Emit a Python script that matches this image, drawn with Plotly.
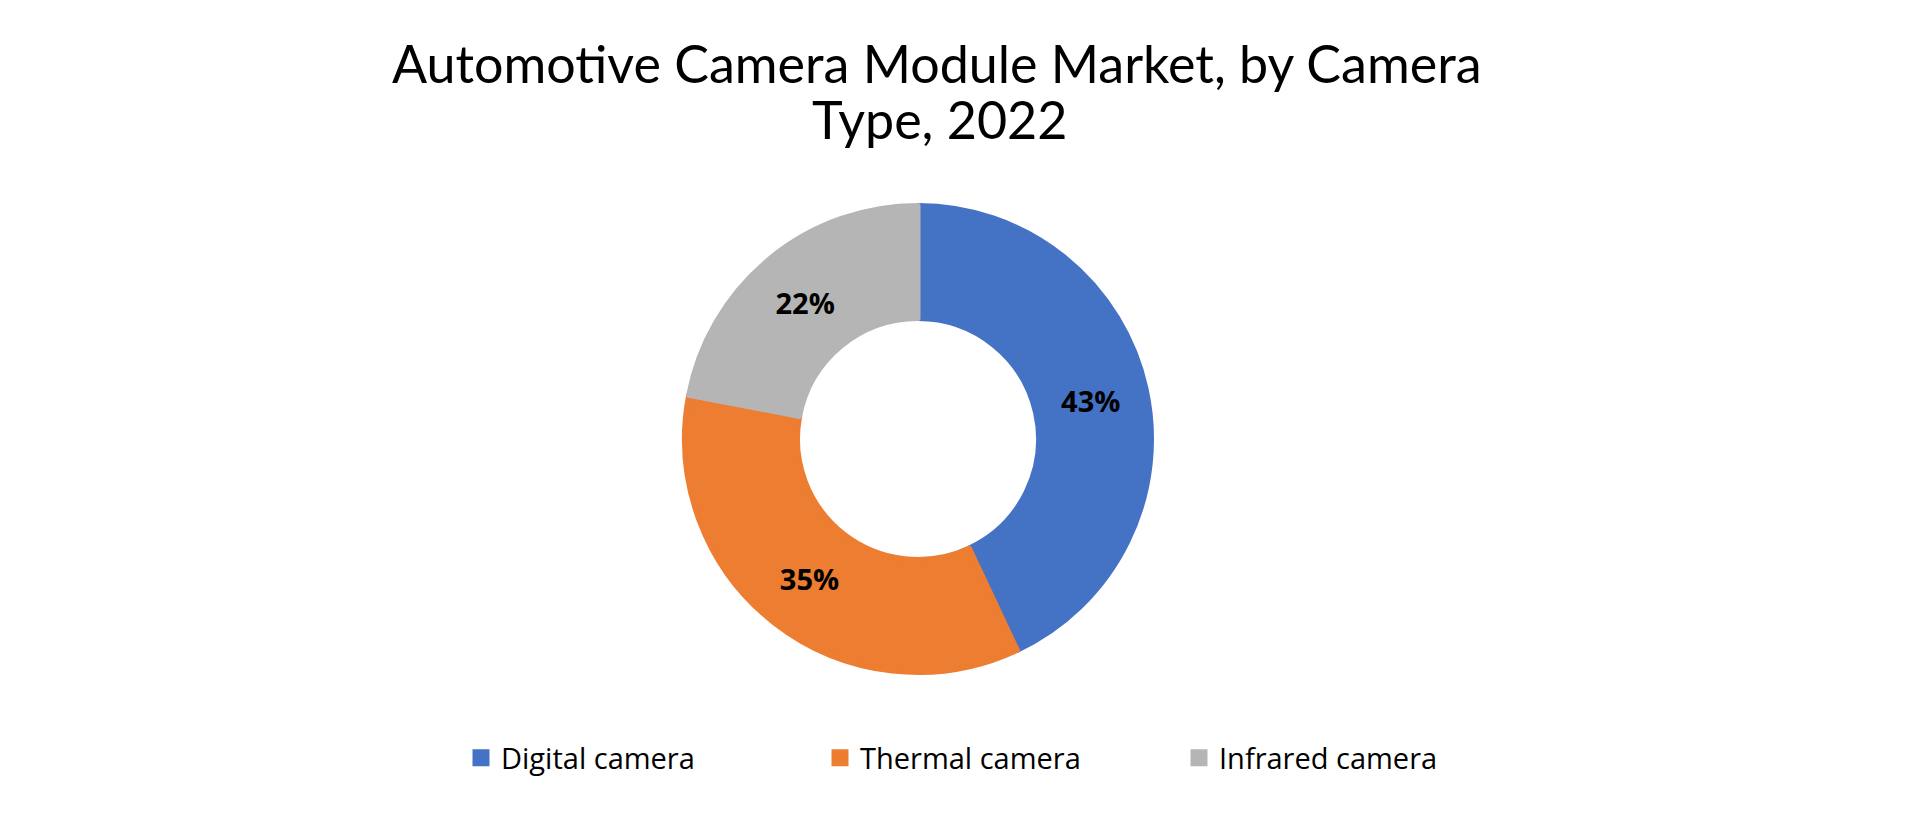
import plotly.graph_objects as go

categories = ["Digital camera", "Thermal camera", "Infrared camera"]
shares = [43, 35, 22]
colors = ["#4472C4", "#ED7D31", "#B5B5B5"]
title_line1 = "Automotive Camera Module Market, by Camera"
title_line2 = "Type, 2022"

W, H = 1920, 818
cx, cy, r_out, r_in = 918, 439, 236, 118
border = 5
r_draw = r_out - border / 2

fig = go.Figure(
    go.Pie(
        labels=categories,
        values=shares,
        sort=False,
        direction="clockwise",
        rotation=0,
        hole=(r_in + border / 2) / r_draw,
        marker=dict(colors=colors, line=dict(color=colors, width=border)),
        texttemplate="%{percent:.0%}",
        textposition="inside",
        insidetextorientation="horizontal",
        textfont=dict(family="Open Sans", size=29, color="#000000", weight="bold"),
        hoverinfo="label+percent",
        domain=dict(
            x=[(cx - r_draw) / W, (cx + r_draw) / W],
            y=[(H - cy - r_draw) / H, (H - cy + r_draw) / H],
        ),
    )
)

fig.update_layout(
    width=W,
    height=H,
    margin=dict(l=0, r=0, t=0, b=0),
    paper_bgcolor="white",
    plot_bgcolor="white",
    showlegend=True,
    legend=dict(
        orientation="h",
        x=461 / W,
        xanchor="left",
        y=1 - 758 / H,
        yanchor="middle",
        entrywidth=314,
        entrywidthmode="pixels",
        font=dict(family="Open Sans", size=29, color="#000000"),
        bgcolor="rgba(0,0,0,0)",
    ),
    annotations=[
        dict(
            text=title_line1, x=937 / W, y=1 - 63.5 / H, xref="paper", yref="paper",
            xanchor="center", yanchor="middle", showarrow=False,
            font=dict(family="Lato", size=52, color="#000000"),
        ),
        dict(
            text=title_line2, x=939 / W, y=1 - 119.5 / H, xref="paper", yref="paper",
            xanchor="center", yanchor="middle", showarrow=False,
            font=dict(family="Lato", size=52, color="#000000"),
        ),
    ],
)

fig.write_html("out.html")
